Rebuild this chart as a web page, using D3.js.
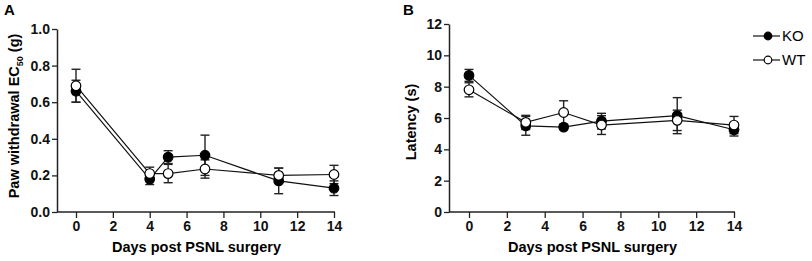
<!DOCTYPE html>
<html>
<head>
<meta charset="utf-8">
<script src="https://cdn.jsdelivr.net/npm/d3@7"></script>
<style>
  body { margin: 0; background: #fff; }
  text { font-family: "Liberation Sans", Arial, sans-serif; }
</style>
</head>
<body>
<div id="chart"></div>
<script>
// Panel A: paw withdrawal EC50 (g)
const daysA = [0, 4, 5, 7, 11, 14];
const koA = [0.66, 0.18, 0.30, 0.31, 0.17, 0.13];
const koAErr = [0.06, 0.03, 0.035, 0.11, 0.07, 0.04];
const wtA = [0.69, 0.21, 0.21, 0.235, 0.20, 0.205];
const wtAErr = [0.09, 0.035, 0.05, 0.05, 0.04, 0.05];
const yTicksA = [0, 0.2, 0.4, 0.6, 0.8, 1.0];

// Panel B: latency (s)
const daysB = [0, 3, 5, 7, 11, 14];
const koB = [8.72, 5.5, 5.42, 5.8, 6.15, 5.25];
const koBErr = [0.38, 0.6, 0.15, 0.5, 1.15, 0.4];
const wtB = [7.8, 5.72, 6.35, 5.55, 5.85, 5.55];
const wtBErr = [0.45, 0.45, 0.75, 0.6, 0.65, 0.55];
const yTicksB = [0, 2, 4, 6, 8, 10, 12];

const xTicks = [0, 2, 4, 6, 8, 10, 12, 14];
const seriesNames = ["KO", "WT"];

const svg = d3.select("#chart").append("svg")
    .attr("width", 812)
    .attr("height", 261);

function drawPanel(cfg) {
    const x = d3.scaleLinear().domain([0, 14]).range([cfg.x0, cfg.x1]);
    const y = d3.scaleLinear().domain([0, cfg.yMax]).range([212, cfg.yTop]);
    const g = svg.append("g");

    // x axis
    const xAxis = g.append("g")
        .attr("transform", "translate(0,212)")
        .call(d3.axisBottom(x).tickValues(xTicks).tickSize(6).tickSizeOuter(0).tickPadding(3));
    xAxis.select(".domain").remove();
    xAxis.selectAll("line").attr("stroke", "#222").attr("stroke-width", 1.3);
    xAxis.selectAll("text").attr("fill", "#111").style("font-size", "14px").style("font-weight", "bold");
    g.append("line")
        .attr("x1", cfg.axisX).attr("x2", cfg.x1 + 1)
        .attr("y1", 212).attr("y2", 212)
        .attr("stroke", "#222").attr("stroke-width", 1.5);

    // y axis
    const yAxis = g.append("g")
        .attr("transform", `translate(${cfg.axisX},0)`)
        .call(d3.axisLeft(y).tickValues(cfg.yTicks).tickSize(5).tickSizeOuter(0).tickPadding(2)
            .tickFormat(cfg.fmt));
    yAxis.select(".domain").attr("stroke", "#222").attr("stroke-width", 1.5);
    yAxis.selectAll("line").attr("stroke", "#222").attr("stroke-width", 1.3);
    yAxis.selectAll("text").attr("fill", "#111").style("font-size", "14px").style("font-weight", "bold");

    // panel letter
    g.append("text")
        .attr("x", cfg.letterX).attr("y", 15)
        .style("font-size", "15px").style("font-weight", "bold")
        .text(cfg.letter);

    // x axis title
    g.append("text")
        .attr("x", (cfg.axisX + cfg.x1) / 2 + 1).attr("y", 252)
        .attr("text-anchor", "middle")
        .style("font-size", "14.5px").style("font-weight", "bold")
        .text("Days post PSNL surgery");

    // y axis title
    const yt = g.append("text")
        .attr("transform", `translate(${cfg.yTitleX},${cfg.yTitleY}) rotate(-90)`)
        .attr("text-anchor", "middle")
        .style("font-size", "14.5px").style("font-weight", "bold");
    cfg.yTitle(yt);

    const series = [
        {name: "KO", vals: cfg.ko, err: cfg.koErr, fill: "#000"},
        {name: "WT", vals: cfg.wt, err: cfg.wtErr, fill: "#fff"}
    ];

    series.forEach(s => {
        const pts = cfg.days.map((d, i) => ({d, v: s.vals[i], e: s.err[i]}));
        // error bars
        const eb = g.append("g").attr("stroke", "#222").attr("stroke-width", 1.4);
        pts.forEach(p => {
            eb.append("line").attr("x1", x(p.d)).attr("x2", x(p.d))
                .attr("y1", y(p.v - p.e)).attr("y2", y(p.v + p.e));
            [p.v - p.e, p.v + p.e].forEach(v => {
                eb.append("line").attr("x1", x(p.d) - 4.5).attr("x2", x(p.d) + 4.5)
                    .attr("y1", y(v)).attr("y2", y(v));
            });
        });
        // connecting line
        g.append("path")
            .datum(pts)
            .attr("fill", "none")
            .attr("stroke", "#111")
            .attr("stroke-width", 1.2)
            .attr("d", d3.line().x(p => x(p.d)).y(p => y(p.v)));
    });

    series.forEach(s => {
        const pts = cfg.days.map((d, i) => ({d, v: s.vals[i]}));
        g.selectAll(null)
            .data(pts)
            .join("circle")
            .attr("cx", p => x(p.d))
            .attr("cy", p => y(p.v))
            .attr("r", 4.8)
            .attr("fill", s.fill)
            .attr("stroke", "#000")
            .attr("stroke-width", 1.2);
    });
}

drawPanel({
    letter: "A", letterX: 4,
    x0: 76, x1: 334, axisX: 57, yTop: 29, yMax: 1,
    yTicks: yTicksA, fmt: d3.format(".1f"),
    days: daysA, ko: koA, koErr: koAErr, wt: wtA, wtErr: wtAErr,
    yTitleX: 19, yTitleY: 116,
    yTitle: t => {
        t.append("tspan").text("Paw withdrawal EC");
        t.append("tspan").attr("dy", 4).style("font-size", "9px").text("50");
        t.append("tspan").attr("dy", -4).text(" (g)");
    }
});

drawPanel({
    letter: "B", letterX: 403,
    x0: 469, x1: 734, axisX: 449, yTop: 24, yMax: 12,
    yTicks: yTicksB, fmt: d3.format("d"),
    days: daysB, ko: koB, koErr: koBErr, wt: wtB, wtErr: wtBErr,
    yTitleX: 416, yTitleY: 122,
    yTitle: t => t.text("Latency (s)")
});

// Legend
const legend = svg.append("g");
seriesNames.forEach((name, i) => {
    const ly = 36 + i * 24;
    legend.append("line")
        .attr("x1", 753).attr("x2", 780)
        .attr("y1", ly).attr("y2", ly)
        .attr("stroke", "#111").attr("stroke-width", 1.2);
    legend.append("circle")
        .attr("cx", 768).attr("cy", ly).attr("r", 3.8)
        .attr("fill", name === "KO" ? "#000" : "#fff")
        .attr("stroke", "#000").attr("stroke-width", 1.2);
    legend.append("text")
        .attr("x", 782).attr("y", ly + 5)
        .style("font-size", "15px")
        .text(name);
});
</script>
</body>
</html>
